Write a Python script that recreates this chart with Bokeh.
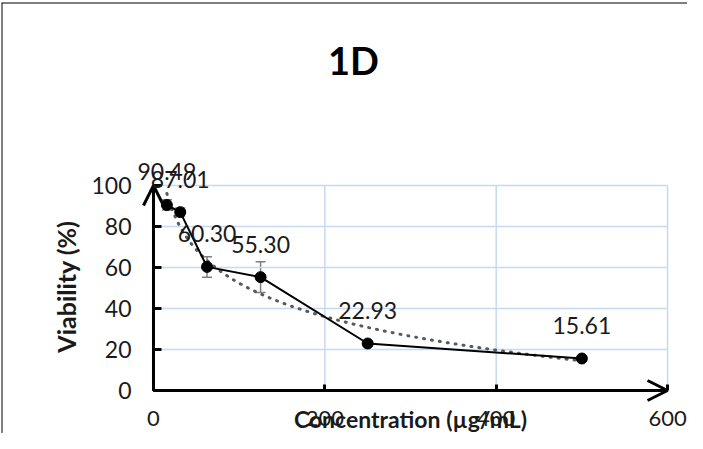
import numpy as np
from bokeh.plotting import figure
from bokeh.models import (ColumnDataSource, Whisker, TeeHead, Arrow, OpenHead,
                          Label, LabelSet, FixedTicker, Range1d, Span)
from bokeh.core.properties import value
from bokeh.embed import file_html
from bokeh.resources import INLINE

# ---- data ----
conc = [15.625, 31.25, 62.5, 125, 250, 500]
viability = [90.49, 87.01, 60.30, 55.30, 22.93, 15.61]
err = [2.5, 2.0, 5.0, 7.5, 1.0, 1.0]
x_ticks = [0, 200, 400, 600]
y_ticks = [0, 20, 40, 60, 80, 100]
grid_x = [200, 400, 600]
grid_y = [20, 40, 60, 80, 100]
title_text = "1D"
x_title = "Concentration (µg/mL)"
y_title = "Viability (%)"

FONT = "Lato"
TXT = "#1a1a1a"
GRID = "#c5d9f1"

X0, X1 = -177.4, 623.3
Y0, Y1 = -20.98, 189.27

p = figure(width=687, height=433, output_backend="svg", toolbar_location=None,
           title=None,
           x_range=Range1d(X0, X1), y_range=Range1d(Y0, Y1),
           min_border_left=1, min_border_right=0, min_border_top=2, min_border_bottom=0)
p.background_fill_color = "white"
p.border_fill_color = "white"
p.outline_line_color = None
p.xgrid.visible = False
p.ygrid.visible = False

# chart-area border (left and top edges visible)
p.add_layout(Span(location=X0, dimension="height", line_color="black", line_width=2))
p.add_layout(Span(location=Y1, dimension="width", line_color="black", line_width=2))

# gridlines inside plot area
p.segment(x0=[0] * len(grid_y), y0=grid_y, x1=[600] * len(grid_y), y1=grid_y,
          line_color=GRID, line_width=1.5)
p.segment(x0=grid_x, y0=[0] * len(grid_x), x1=grid_x, y1=[100] * len(grid_x),
          line_color=GRID, line_width=1.5)

# axes fixed at origin
for ax, ticks, bnds in ((p.xaxis[0], x_ticks, (0, 600)), (p.yaxis[0], y_ticks, (0, 100))):
    ax.fixed_location = 0
    ax.bounds = bnds
    ax.ticker = FixedTicker(ticks=ticks)
    ax.axis_line_width = 3
    ax.axis_line_color = "black"
    ax.major_tick_line_width = 3
    ax.major_tick_line_color = "black"
    ax.major_tick_out = 0
    ax.minor_tick_out = 0
    ax.minor_tick_in = 0
    ax.major_label_text_font = FONT
    ax.major_label_text_font_size = "23px"
    ax.major_label_text_color = TXT
p.xaxis.major_label_text_font_size = "22px"
p.xaxis.major_tick_in = 6
p.yaxis.major_tick_in = 8
p.xaxis.major_label_standoff = 21
p.yaxis.major_label_standoff = 22

# axis arrows
p.add_layout(Arrow(end=OpenHead(size=20, line_width=3, line_color="black"),
                   x_start=0, y_start=0, x_end=0, y_end=100, line_width=3, line_color="black"))
p.add_layout(Arrow(end=OpenHead(size=20, line_width=3, line_color="black"),
                   x_start=0, y_start=0, x_end=600, y_end=0, line_width=3, line_color="black"))

# logarithmic trendline fitted to the data
a, b = np.polyfit(np.log(conc), viability, 1)
tx = np.geomspace(conc[0], conc[-1], 200)
p.line(tx, a * np.log(tx) + b, line_color="#595959", line_width=3,
       line_dash="1 7", line_cap="round")

src = ColumnDataSource(dict(
    x=conc, y=viability,
    upper=[v + e for v, e in zip(viability, err)],
    lower=[v - e for v, e in zip(viability, err)],
    lab=[f"{v:.2f}" for v in viability]))

p.add_layout(Whisker(source=src, base="x", upper="upper", lower="lower",
                     line_color="#7f7f7f", line_width=1.5,
                     upper_head=TeeHead(size=10, line_color="#7f7f7f", line_width=1.5),
                     lower_head=TeeHead(size=10, line_color="#7f7f7f", line_width=1.5)))

p.line("x", "y", source=src, line_color="black", line_width=2)
p.scatter("x", "y", source=src, size=11, fill_color="black", line_color="black")

p.add_layout(LabelSet(x="x", y="y", text="lab", source=src, y_offset=33,
                      text_align="center", text_baseline="middle",
                      text_font=value(FONT), text_font_size=value("23px"),
                      text_color=TXT))

# titles
p.add_layout(Label(x=233.5, y=161, text=title_text, text_align="center", text_baseline="middle",
                   text_font=FONT, text_font_size="38px", text_font_style="bold",
                   text_color="black"))
p.add_layout(Label(x=300, y=-13.9, text=x_title, text_align="center", text_baseline="middle",
                   text_font=FONT, text_font_size="23px", text_font_style="bold",
                   text_color=TXT))
p.add_layout(Label(x=-101.6, y=50.7, text=y_title, text_align="center", text_baseline="middle",
                   angle=np.pi / 2, text_font=FONT, text_font_size="25px",
                   text_font_style="bold", text_color=TXT))

open("out.html", "w").write(file_html(p, INLINE))
